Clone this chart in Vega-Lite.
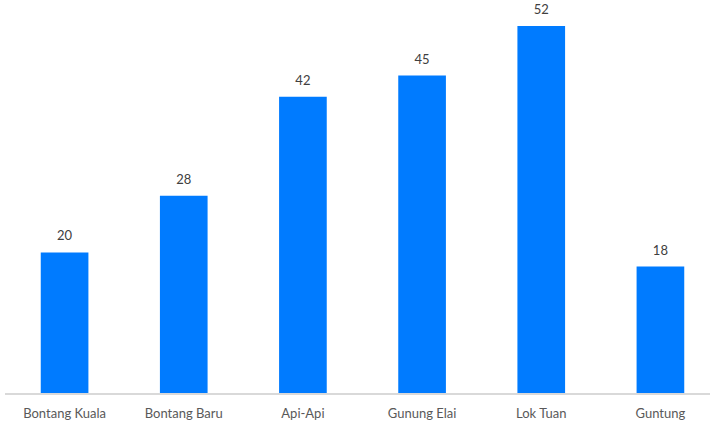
{
  "$schema": "https://vega.github.io/schema/vega-lite/v6.json",
  "width": 715,
  "height": 394,
  "autosize": "none",
  "padding": {"left": 5, "top": 0, "right": 0, "bottom": 30},
  "background": "white",
  "config": {"view": {"stroke": null}, "font": "Lato"},
  "data": {"values": [
    {"kelurahan": "Bontang Kuala", "nilai": 20},
    {"kelurahan": "Bontang Baru", "nilai": 28},
    {"kelurahan": "Api-Api", "nilai": 42},
    {"kelurahan": "Gunung Elai", "nilai": 45},
    {"kelurahan": "Lok Tuan", "nilai": 52},
    {"kelurahan": "Guntung", "nilai": 18}
  ]},
  "encoding": {
    "x": {"field": "kelurahan", "type": "nominal", "sort": null,
      "scale": {"paddingInner": 0.6, "paddingOuter": 0.3},
      "axis": {"title": null, "labelAngle": 0, "labelFontSize": 13, "labelColor": "#595959", "labelFont": "Lato",
        "ticks": false, "domain": false, "labelPadding": 13}},
    "y": {"field": "nilai", "type": "quantitative", "scale": {"domain": [0, 55.67], "nice": false}, "axis": null}
  },
  "layer": [
    {"mark": {"type": "bar", "color": "#007bff"}},
    {"mark": {"type": "rule", "color": "#d9d9d9", "strokeWidth": 1.5, "x": 0, "x2": 705},
     "encoding": {"x": null, "y": {"datum": 0, "type": "quantitative"}}},
    {"mark": {"type": "text", "dy": -9, "baseline": "bottom", "fontSize": 13, "color": "#404040", "font": "Lato"},
     "encoding": {"text": {"field": "nilai", "type": "quantitative"}}}
  ]
}
